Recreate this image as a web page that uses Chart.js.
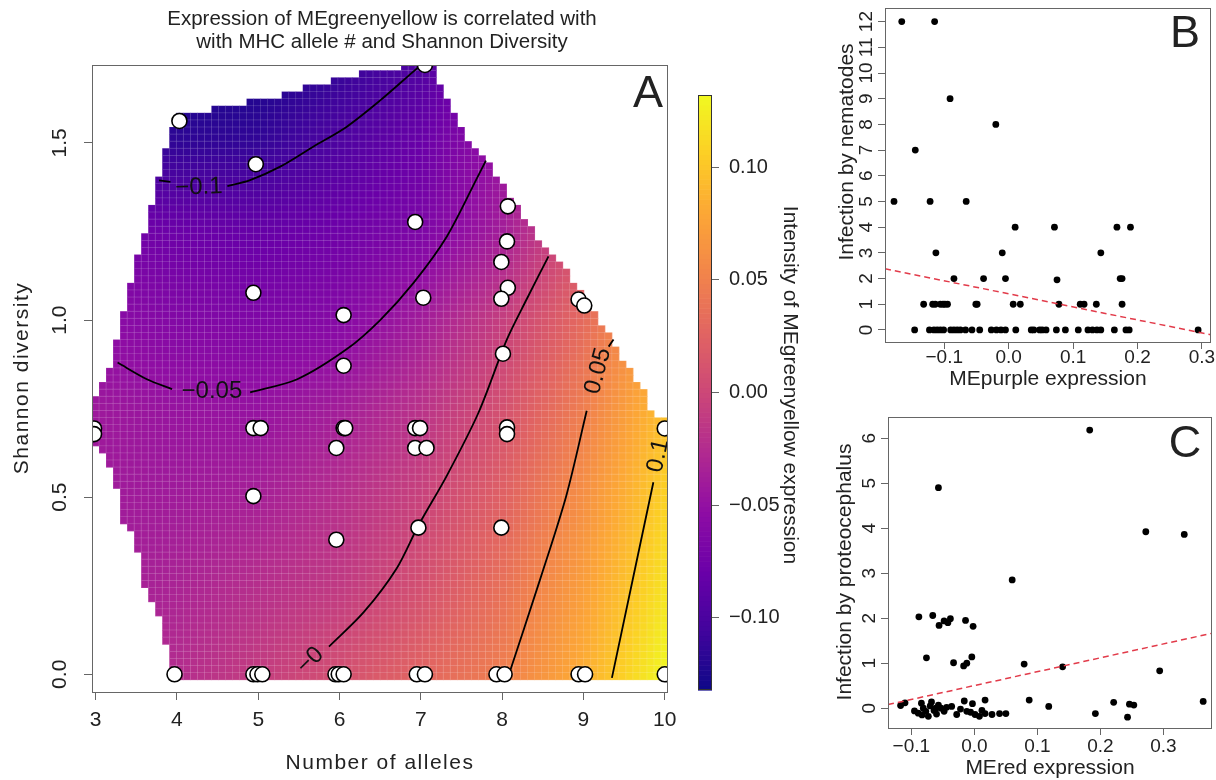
<!DOCTYPE html>
<html>
<head>
<meta charset="utf-8">
<title>MEgreenyellow expression</title>
<script src="https://cdn.jsdelivr.net/npm/chart.js@4.4.1/dist/chart.umd.min.js"></script>
<style>
    body { margin: 0; background: #fff; }
    #page { position: relative; width: 1216px; height: 780px; overflow: hidden; background: #fff; }
    #page canvas { position: absolute; }
</style>
</head>
<body>
<div id="page">
    <canvas id="heatChart" width="680" height="780" style="left:0;top:0;width:680px;height:780px"></canvas>
    <canvas id="barChart" width="150" height="780" style="left:680px;top:0;width:150px;height:780px"></canvas>
    <canvas id="nemChart" width="386" height="400" style="left:830px;top:0;width:386px;height:400px"></canvas>
    <canvas id="protChart" width="386" height="380" style="left:830px;top:400px;width:386px;height:380px"></canvas>
</div>
<script>
var FONT = '"Liberation Sans", Arial, sans-serif';
Chart.defaults.font.family = FONT;
Chart.defaults.animation = false;

// ---------- panel A: alleles vs Shannon diversity ----------
var alleleTicks = [3, 4, 5, 6, 7, 8, 9, 10];
var shannonTicks = [0, 0.5, 1, 1.5];
var intensityTicks = [-0.1, -0.05, 0, 0.05, 0.1];
var intensityMin = -0.132;
var intensityMax = 0.132;

// fitted surface (rows = shannon, cols = alleles)
var surfAlleles = [3, 4, 5, 6, 7, 8, 9, 10];
var surfShannon = [0, 0.25, 0.5, 0.75, 1, 1.25, 1.5, 1.75];
var surfValues = [
    [-0.035, -0.024, -0.009,  0.008,  0.027,  0.048,  0.084, 0.130],
    [-0.038, -0.032, -0.022, -0.012,  0.008,  0.037,  0.073, 0.118],
    [-0.040, -0.040, -0.035, -0.022, -0.004,  0.024,  0.062, 0.107],
    [-0.042, -0.047, -0.048, -0.038, -0.019,  0.009,  0.048, 0.095],
    [-0.055, -0.062, -0.064, -0.060, -0.039, -0.007,  0.032, 0.080],
    [-0.070, -0.078, -0.082, -0.076, -0.066, -0.038,  0.012, 0.060],
    [-0.105, -0.115, -0.113, -0.097, -0.080, -0.047, -0.005, 0.040],
    [-0.120, -0.130, -0.128, -0.115, -0.098, -0.065, -0.020, 0.025]
];

// outline of the region where the surface is shown
var hullAlleles = [3.95, 3.86, 3.76, 3.59, 3.49, 3.33, 3.22, 3.12, 2.96, 2.96, 3.15, 3.22, 3.31, 3.41, 3.49, 3.58, 3.68, 3.76, 3.84, 3.95, 3.95,
    4.56, 4.99, 5.36, 5.79, 6.16, 6.59, 7.15, 7.27, 7.57, 7.83, 8.01, 8.26, 8.55, 8.80, 9.04, 9.36, 9.57, 9.73, 9.85, 10.04, 10.04];
var hullShannon = [-0.015, 0.08, 0.19, 0.25, 0.38, 0.43, 0.56, 0.62, 0.64, 0.78, 0.84, 0.93, 0.99, 1.08, 1.17, 1.23, 1.32, 1.39, 1.47, 1.54, 1.58,
    1.60, 1.62, 1.64, 1.67, 1.69, 1.71, 1.73, 1.64, 1.51, 1.45, 1.38, 1.29, 1.20, 1.14, 1.05, 0.94, 0.86, 0.80, 0.74, 0.72, -0.015];

var fishAlleles = [4.03, 4.97, 4.94, 6.05, 6.05, 6.93, 7.03, 7.05,
    2.98, 2.98, 4.94, 5.03, 6.05, 6.07, 5.96, 6.93, 6.99, 6.93, 7.07, 4.94, 5.96, 6.97,
    3.97, 4.94, 4.99, 5.05, 5.95, 5.99, 6.05, 6.95, 7.05,
    8.07, 8.06, 7.99, 8.07, 7.99, 8.01, 8.94, 9.01,
    8.06, 8.06, 7.99, 10.0, 7.93, 8.03, 8.94, 9.02, 10.0];
var fishShannon = [1.562, 1.44, 1.077, 1.014, 0.871, 1.277, 1.063, 1.72,
    0.694, 0.678, 0.695, 0.695, 0.695, 0.695, 0.639, 0.695, 0.695, 0.639, 0.639, 0.503, 0.38, 0.414,
    0, 0, 0, 0, 0, 0, 0, 0, 0,
    1.321, 1.222, 1.164, 1.091, 1.06, 0.905, 1.058, 1.041,
    0.697, 0.678, 0.414, 0.694, 0, 0, 0, 0, 0];

// contour lines (null = gap left for the label)
var contM10A = [3.78, 3.92, null, 4.62, 4.9, 5.27, 5.68, 6.09, 6.5, 6.9, 7.1];
var contM10S = [1.394, 1.39, null, 1.378, 1.395, 1.433, 1.49, 1.546, 1.62, 1.70, 1.74];
var contM05A = [3.27, 3.63, 3.94, null, 4.90, 5.48, 6.09, 6.5, 6.91, 7.32, 7.70, 7.80];
var contM05S = [0.88, 0.833, 0.805, null, 0.796, 0.833, 0.918, 1.0, 1.105, 1.236, 1.405, 1.45];
var contZeroA = [5.87, 6.30, 6.70, 6.97, 7.32, 7.71, 8.06, 8.30, 8.57];
var contZeroS = [0.078, 0.176, 0.298, 0.42, 0.561, 0.739, 0.946, 1.058, 1.18];
var contP05A = [8.07, 8.47, 8.79, 9.04, null, 9.31, 9.37];
var contP05S = [-0.01, 0.27, 0.505, 0.744, null, 0.925, 0.945];
var contP10A = [9.35, 9.86];
var contP10S = [-0.01, 0.542];

var contLabels = ["\u22120.1", "\u22120.05", "\u22120", "0.05", "0.1"];
var contLabelA = [4.27, 4.43, 5.64, 9.18, 9.92];
var contLabelS = [1.375, 0.80, 0.039, 0.856, 0.617];

// ---------- panel B: MEpurple vs nematodes ----------
var nemTicksX = [-0.1, 0, 0.1, 0.2, 0.3];
var nemTicksY = [0, 1, 2, 3, 4, 5, 6, 7, 8, 9, 10, 11, 12];
var nemExpr = [-0.166, -0.115, -0.091, -0.020, -0.145, -0.178, -0.122, -0.066, 0.010, 0.071, 0.168, 0.189,
    -0.113, -0.010, 0.143, -0.085, -0.039, -0.005, 0.075, 0.173, 0.176,
    -0.132, -0.118, -0.114, -0.106, -0.102, -0.099, -0.095, -0.051, -0.049, 0.007, 0.018, 0.078, 0.111, 0.117, 0.136, 0.176,
    -0.146, -0.123, -0.116, -0.111, -0.106, -0.101, -0.090, -0.085, -0.080, -0.075, -0.067, -0.057, -0.045, -0.027, -0.019,
    -0.012, -0.005, 0.011, 0.035, 0.039, 0.048, 0.052, 0.058, 0.074, 0.088, 0.108, 0.123, 0.130, 0.137, 0.143, 0.164, 0.182, 0.187, 0.294];
var nemCount = [12, 12, 9, 8, 7, 5, 5, 5, 4, 4, 4, 4,
    3, 3, 3, 2, 2, 2, 1.95, 2, 2,
    1, 1, 1, 1, 1, 1, 1, 1, 1, 1, 1, 1, 1, 1, 1, 1,
    0, 0, 0, 0, 0, 0, 0, 0, 0, 0, 0, 0, 0, 0, 0,
    0, 0, 0, 0, 0, 0, 0, 0, 0, 0, 0, 0, 0, 0, 0, 0, 0, 0, 0];
var nemFitX = [-0.192, 0.314];
var nemFitY = [2.38, -0.19];

// ---------- panel C: MEred vs proteocephalus ----------
var protTicksX = [-0.1, 0, 0.1, 0.2, 0.3];
var protTicksY = [0, 1, 2, 3, 4, 5, 6];
var protExpr = [0.183, -0.057, 0.272, 0.333, 0.060,
    -0.088, -0.066, -0.056, -0.048, -0.042, -0.038, -0.014, -0.002,
    -0.076, -0.033, -0.017, -0.012, -0.004, 0.079, 0.140, 0.294,
    0.087, 0.118, 0.221, 0.246, 0.253, 0.363, 0.192, 0.243, 0.017, -0.016,
    -0.117, -0.110, -0.095, -0.089, -0.084, -0.081, -0.077, -0.073, -0.070, -0.068, -0.064, -0.060, -0.057, -0.053,
    -0.048, -0.044, -0.036, -0.028, -0.022, -0.012, -0.006, -0.003, 0.001, 0.008, 0.012, 0.017, 0.028, 0.040, 0.050,
    -0.083, -0.061];
var protCount = [6.18, 4.90, 3.92, 3.86, 2.85,
    2.03, 2.06, 1.84, 1.94, 1.90, 1.99, 1.95, 1.82,
    1.12, 1.01, 0.94, 1.00, 1.14, 0.98, 0.92, 0.83,
    0.18, 0.04, 0.13, 0.09, 0.07, 0.15, -0.12, -0.20, 0.18, 0.16,
    0.06, 0.12, -0.06, -0.11, 0.11, 0.00, -0.07, -0.18, 0.05, 0.14, -0.05, -0.13, 0.07, 0.00,
    -0.07, 0.02, 0.04, -0.14, -0.02, -0.07, -0.09, 0.10, -0.14, -0.18, -0.05, -0.12, -0.14, -0.12, -0.12,
    -0.15, 0.00];
var protFitX = [-0.137, 0.385];
var protFitY = [0.08, 1.69];

// plasma colour ramp
var PLASMA = ["#0d0887", "#41049d", "#6a00a8", "#8f0da4", "#b12a90", "#cc4778",
              "#e16462", "#f2844b", "#fca636", "#fcce25", "#f0f921"];

function hexRgb(h) {
    return [parseInt(h.substr(1, 2), 16), parseInt(h.substr(3, 2), 16), parseInt(h.substr(5, 2), 16)];
}

function plasma(v) {
    var t = (v - intensityMin) / (intensityMax - intensityMin);
    t = Math.max(0, Math.min(1, t)) * (PLASMA.length - 1);
    var k = Math.min(Math.floor(t), PLASMA.length - 2);
    var f = t - k;
    var c0 = hexRgb(PLASMA[k]), c1 = hexRgb(PLASMA[k + 1]);
    return "rgb(" + Math.round(c0[0] + (c1[0] - c0[0]) * f) + "," +
        Math.round(c0[1] + (c1[1] - c0[1]) * f) + "," +
        Math.round(c0[2] + (c1[2] - c0[2]) * f) + ")";
}

function findCell(arr, v) {
    for (var k = 0; k < arr.length - 2; k++) {
        if (v < arr[k + 1]) return k;
    }
    return arr.length - 2;
}

function surfaceAt(a, s) {
    var i = findCell(surfAlleles, a), j = findCell(surfShannon, s);
    var ta = (a - surfAlleles[i]) / (surfAlleles[i + 1] - surfAlleles[i]);
    var ts = (s - surfShannon[j]) / (surfShannon[j + 1] - surfShannon[j]);
    ta = Math.max(-0.2, Math.min(1.2, ta));
    ts = Math.max(-0.2, Math.min(1.2, ts));
    return surfValues[j][i] * (1 - ta) * (1 - ts) + surfValues[j][i + 1] * ta * (1 - ts) +
        surfValues[j + 1][i] * (1 - ta) * ts + surfValues[j + 1][i + 1] * ta * ts;
}

function insideHull(a, s) {
    var inside = false;
    for (var i = 0, j = hullAlleles.length - 1; i < hullAlleles.length; j = i++) {
        var xi = hullAlleles[i], yi = hullShannon[i], xj = hullAlleles[j], yj = hullShannon[j];
        if ((yi > s) !== (yj > s) && a < (xj - xi) * (s - yi) / (yj - yi) + xi) inside = !inside;
    }
    return inside;
}

function toPoints(xs, ys) {
    return xs.map(function(x, i) { return { x: x, y: ys[i] }; });
}

function fmtNum(v, dec) {
    var s = Math.abs(v) < 1e-9 ? (0).toFixed(dec) : v.toFixed(dec);
    return s.replace("-", "\u2212");
}

// per-canvas frame settings: tick label placement and free text
var frames = {
    heatChart: {
        tickFont: "21px " + FONT, xDec: 0, yDec: 1, xLabelDy: 28, yLabelDx: 32,
        texts: [
            { text: "Expression of MEgreenyellow is correlated with", x: 382, y: 19, font: "20.5px " + FONT },
            { text: "with MHC allele # and Shannon Diversity", x: 382, y: 42, font: "20.5px " + FONT },
            { text: "Number of alleles", x: 380, y: 763, font: "21px " + FONT, spacing: 1.5 },
            { text: "Shannon diversity", x: 22, y: 378, font: "21px " + FONT, spacing: 1.5, angle: -90 },
            { text: "A", x: 648, y: 95, font: "45px " + FONT }
        ]
    },
    nemChart: {
        tickFont: "19px " + FONT, xDec: 1, yDec: 0, xLabelDy: 16, yLabelDx: 18,
        texts: [
            { text: "Infection by nematodes", x: 17, y: 152, font: "21px " + FONT, angle: -90 },
            { text: "MEpurple expression", x: 218, y: 379, font: "21px " + FONT },
            { text: "B", x: 355, y: 35, font: "45px " + FONT }
        ]
    },
    protChart: {
        tickFont: "19px " + FONT, xDec: 1, yDec: 0, xLabelDy: 19, yLabelDx: 18,
        texts: [
            { text: "Infection by proteocephalus", x: 15, y: 172, font: "21px " + FONT, angle: -90 },
            { text: "MEred expression", x: 220, y: 368, font: "21px " + FONT },
            { text: "C", x: 355, y: 45, font: "45px " + FONT }
        ]
    }
};

var rFrame = {
    id: "rFrame",
    afterDraw: function(chart) {
        var cfg = frames[chart.canvas.id];
        var ctx = chart.ctx, area = chart.chartArea;
        var xs = chart.scales.x, ys = chart.scales.y;
        ctx.save();
        ctx.strokeStyle = "#666";
        ctx.lineWidth = 1;
        ctx.strokeRect(area.left + 0.5, area.top + 0.5, area.right - area.left - 1, area.bottom - area.top);

        ctx.fillStyle = "#222";
        ctx.font = cfg.tickFont;
        ctx.textAlign = "center";
        ctx.textBaseline = "middle";
        xs.ticks.forEach(function(t) {
            ctx.fillText(fmtNum(t.value, cfg.xDec), xs.getPixelForValue(t.value), area.bottom + cfg.xLabelDy);
        });
        ys.ticks.forEach(function(t) {
            ctx.save();
            ctx.translate(area.left - cfg.yLabelDx, ys.getPixelForValue(t.value));
            ctx.rotate(-Math.PI / 2);
            ctx.fillText(fmtNum(t.value, cfg.yDec), 0, 0);
            ctx.restore();
        });

        cfg.texts.forEach(function(tx) {
            ctx.save();
            ctx.font = tx.font;
            ctx.letterSpacing = (tx.spacing || 0) + "px";
            ctx.translate(tx.x, tx.y);
            if (tx.angle) ctx.rotate(tx.angle * Math.PI / 180);
            ctx.fillText(tx.text, 0, 0);
            ctx.restore();
        });
        ctx.restore();
    }
};

var heatLayer = {
    id: "heatLayer",
    beforeDatasetsDraw: function(chart) {
        var ctx = chart.ctx, area = chart.chartArea;
        var xs = chart.scales.x, ys = chart.scales.y;
        var nx = 82, ny = 88;
        var a0 = 2.955, a1 = 10.04, s0 = -0.015, s1 = 1.745;
        var da = (a1 - a0) / nx, ds = (s1 - s0) / ny;
        ctx.save();
        ctx.beginPath();
        ctx.rect(area.left, area.top, area.right - area.left, area.bottom - area.top);
        ctx.clip();
        var cells = [];
        for (var i = 0; i < nx; i++) {
            for (var j = 0; j < ny; j++) {
                var ac = a0 + (i + 0.5) * da, sc = s0 + (j + 0.5) * ds;
                if (!insideHull(ac, sc)) continue;
                var xL = xs.getPixelForValue(a0 + i * da), xR = xs.getPixelForValue(a0 + (i + 1) * da);
                var yT = ys.getPixelForValue(s0 + (j + 1) * ds), yB = ys.getPixelForValue(s0 + j * ds);
                ctx.fillStyle = plasma(surfaceAt(ac, sc));
                ctx.fillRect(xL, yT, xR - xL + 0.5, yB - yT + 0.5);
                cells.push([xL, yT, xR - xL, yB - yT]);
            }
        }
        ctx.strokeStyle = "rgba(255,255,255,0.10)";
        ctx.lineWidth = 0.8;
        cells.forEach(function(c) { ctx.strokeRect(c[0], c[1], c[2], c[3]); });
        ctx.restore();
    },
    afterDatasetsDraw: function(chart) {
        var ctx = chart.ctx, area = chart.chartArea;
        var xs = chart.scales.x, ys = chart.scales.y;
        var angles = [-2, 0, -45, -75, -78];
        ctx.save();
        ctx.beginPath();
        ctx.rect(area.left, area.top, area.right - area.left, area.bottom - area.top);
        ctx.clip();
        ctx.fillStyle = "#111";
        ctx.font = "24px " + FONT;
        ctx.textAlign = "center";
        ctx.textBaseline = "middle";
        contLabels.forEach(function(lab, i) {
            ctx.save();
            ctx.translate(xs.getPixelForValue(contLabelA[i]), ys.getPixelForValue(contLabelS[i]));
            ctx.rotate(angles[i] * Math.PI / 180);
            ctx.fillText(lab, 0, 0);
            ctx.restore();
        });
        ctx.restore();
    }
};

function rAxis(min, max, ticks, size, horizontal, tickLen) {
    return {
        type: "linear",
        position: horizontal ? "bottom" : "left",
        min: min,
        max: max,
        afterBuildTicks: function(s) { s.ticks = ticks.map(function(v) { return { value: v }; }); },
        afterFit: function(s) { if (horizontal) { s.height = size; } else { s.width = size; } },
        grid: { drawOnChartArea: false, drawTicks: true, tickLength: tickLen, color: "#666", lineWidth: 1 },
        border: { display: false },
        ticks: { display: false }
    };
}

function contourSet(as, ss) {
    return {
        data: toPoints(as, ss),
        showLine: true,
        pointRadius: 0,
        borderColor: "#000",
        borderWidth: 1.8,
        tension: 0.3,
        spanGaps: false,
        clip: 0
    };
}

var noChrome = { legend: { display: false }, tooltip: { enabled: false } };

new Chart(document.getElementById("heatChart"), {
    type: "scatter",
    data: {
        datasets: [
            {
                data: toPoints(fishAlleles, fishShannon),
                pointRadius: 7.5,
                pointHoverRadius: 7.5,
                backgroundColor: "#fff",
                borderColor: "#000",
                borderWidth: 1.6,
                clip: 0
            },
            contourSet(contM10A, contM10S),
            contourSet(contM05A, contM05S),
            contourSet(contZeroA, contZeroS),
            contourSet(contP05A, contP05S),
            contourSet(contP10A, contP10S)
        ]
    },
    options: {
        responsive: false,
        events: [],
        layout: { padding: { left: 0, right: 12, top: 65, bottom: 0 } },
        scales: {
            x: rAxis(2.955, 10.04, alleleTicks, 88, true, 8),
            y: rAxis(-0.05, 1.72, shannonTicks, 92, false, 8)
        },
        plugins: noChrome
    },
    plugins: [heatLayer, rFrame]
});

var colorBar = {
    id: "colorBar",
    beforeDatasetsDraw: function(chart) {
        var ctx = chart.ctx, area = chart.chartArea, ys = chart.scales.y;
        var n = 120, step = (intensityMax - intensityMin) / n;
        ctx.save();
        for (var k = 0; k < n; k++) {
            var v0 = intensityMin + k * step, v1 = v0 + step;
            var yT = ys.getPixelForValue(v1), yB = ys.getPixelForValue(v0);
            ctx.fillStyle = plasma((v0 + v1) / 2);
            ctx.fillRect(area.left, yT, area.right - area.left, yB - yT + 0.6);
        }
        ctx.strokeStyle = "#333";
        ctx.lineWidth = 1;
        ctx.strokeRect(area.left + 0.5, area.top + 0.5, area.right - area.left - 1, area.bottom - area.top - 1);

        ctx.fillStyle = "#222";
        ctx.font = "20px " + FONT;
        ctx.textAlign = "left";
        ctx.textBaseline = "middle";
        ys.ticks.forEach(function(t) {
            ctx.fillText(fmtNum(t.value, 2), area.right + 17, ys.getPixelForValue(t.value));
        });
        ctx.save();
        ctx.font = "21px " + FONT;
        ctx.textAlign = "center";
        ctx.translate(110, 385);
        ctx.rotate(Math.PI / 2);
        ctx.fillText("Intensity of MEgreenyellow expression", 0, 0);
        ctx.restore();
        ctx.restore();
    }
};

var barAxis = rAxis(intensityMin, intensityMax, intensityTicks, 118, false, 7);
barAxis.position = "right";

new Chart(document.getElementById("barChart"), {
    type: "scatter",
    data: { datasets: [] },
    options: {
        responsive: false,
        events: [],
        layout: { padding: { left: 18, right: 0, top: 95, bottom: 90 } },
        scales: {
            x: { type: "linear", display: false },
            y: barAxis
        },
        plugins: noChrome
    },
    plugins: [colorBar]
});

function scatterPanel(id, xsArr, ysArr, fitX, fitY, xr, yr, xt, yt, pad, xh, yw) {
    return new Chart(document.getElementById(id), {
        type: "scatter",
        data: {
            datasets: [
                {
                    data: toPoints(fitX, fitY),
                    showLine: true,
                    pointRadius: 0,
                    borderColor: "#e23b4a",
                    borderWidth: 1.5,
                    borderDash: [6, 4],
                    clip: 0
                },
                {
                    data: toPoints(xsArr, ysArr),
                    pointRadius: 3.4,
                    pointHoverRadius: 3.4,
                    backgroundColor: "#000",
                    borderWidth: 0
                }
            ]
        },
        options: {
            responsive: false,
            events: [],
            layout: { padding: pad },
            scales: {
                x: rAxis(xr[0], xr[1], xt, xh, true, 7),
                y: rAxis(yr[0], yr[1], yt, yw, false, 7)
            },
            plugins: noChrome
        },
        plugins: [rFrame]
    });
}

scatterPanel("nemChart", nemExpr, nemCount, nemFitX, nemFitY, [-0.192, 0.314], [-0.47, 12.53],
    nemTicksX, nemTicksY, { left: 0, right: 5, top: 8, bottom: 0 }, 58, 55);
scatterPanel("protChart", protExpr, protCount, protFitX, protFitY, [-0.137, 0.377], [-0.44, 6.47],
    protTicksX, protTicksY, { left: 0, right: 4, top: 17, bottom: 0 }, 52, 58);
</script>
</body>
</html>
